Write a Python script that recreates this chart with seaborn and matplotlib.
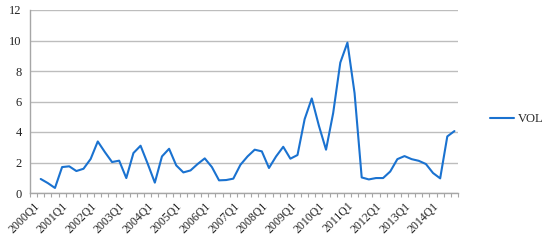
import numpy as np
import pandas as pd
import seaborn as sns
import matplotlib.pyplot as plt

# quarterly volatility, 2000Q1 - 2014Q4 (2000Q1 has no value)
years = list(range(2000, 2015))
quarters = [f"{y}Q{q}" for y in years for q in range(1, 5)]
vol = [np.nan, 0.92, 0.65, 0.33,
       1.70, 1.75, 1.44, 1.59,
       2.23, 3.38, 2.68, 2.03,
       2.12, 0.98, 2.62, 3.10,
       1.92, 0.68, 2.40, 2.90,
       1.81, 1.35, 1.48, 1.90,
       2.27, 1.70, 0.83, 0.85,
       0.94, 1.85, 2.40, 2.84,
       2.73, 1.64, 2.40, 3.03,
       2.25, 2.49, 4.84, 6.20,
       4.41, 2.84, 5.24, 8.55,
       9.86, 6.55, 1.02, 0.89,
       0.98, 0.98, 1.41, 2.22,
       2.42, 2.22, 2.11, 1.90,
       1.31, 0.96, 3.71, 4.06]

df = pd.DataFrame({'pos': np.arange(len(quarters)), 'quarter': quarters, 'VOL': vol})

sns.set_style('white')
plt.rcParams['font.family'] = ['Liberation Serif', 'DejaVu Serif']

fig = plt.figure(figsize=(5.5, 2.44), dpi=100)
ax = fig.add_axes([30 / 550, 1 - 193 / 244, 428 / 550, 183 / 244])

sns.lineplot(data=df, x='pos', y='VOL', ax=ax, color='#1a72d0', linewidth=1.5, label='VOL')

ax.set_ylim(0, 12)
ax.set_yticks(range(0, 13, 2))
ax.set_xlim(-0.5, len(quarters) - 0.5)
ax.yaxis.grid(True, color='#bdbdbd', linewidth=1.0)
ax.set_axisbelow(True)

# category labels every 4 quarters, tick marks between categories
ax.set_xticks(df['pos'][::4])
ax.set_xticklabels(df['quarter'][::4], rotation=45, ha='right', va='top', rotation_mode='anchor')
ax.set_xticks(np.arange(-0.5, len(quarters), 1), minor=True)
ax.tick_params(axis='x', which='major', length=0, pad=5, labelsize=8.5, colors='#222222')
ax.tick_params(axis='x', which='minor', length=3, width=0.8, color='#a6a6a6', direction='out', bottom=True)
ax.tick_params(axis='y', length=0, pad=6, labelsize=9, colors='#222222')

for s in ['top', 'right']:
    ax.spines[s].set_visible(False)
for s in ['left', 'bottom']:
    ax.spines[s].set_color('#a6a6a6')
    ax.spines[s].set_linewidth(1.0)

ax.set_xlabel('')
ax.set_ylabel('')
ax.legend(loc='center left', bbox_to_anchor=(490 / 550, 1 - 119 / 244), bbox_transform=fig.transFigure,
          frameon=False, fontsize=9, handlelength=1.9, handletextpad=0.35, borderpad=0,
          borderaxespad=0)

fig.savefig('out.png', dpi=100)
